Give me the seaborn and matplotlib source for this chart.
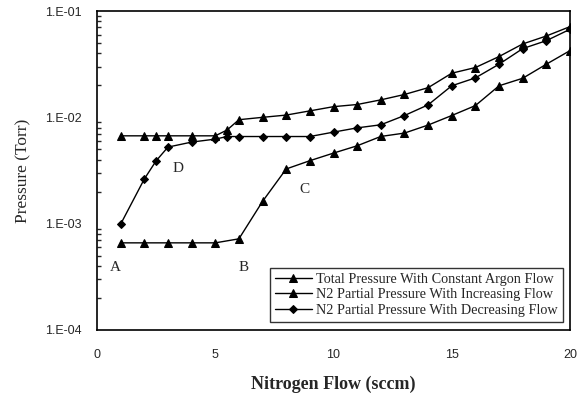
import numpy as np
import pandas as pd
import matplotlib
matplotlib.use("Agg")
import matplotlib.pyplot as plt
import seaborn as sns
from matplotlib.ticker import LogLocator, FixedFormatter, FixedLocator, NullFormatter

# Data
flow_total = [1, 2, 2.5, 3, 4, 5, 5.5, 6, 7, 8, 9, 10, 11, 12, 13, 14, 15, 16, 17, 18, 19, 20]
p_total = [6.7e-3, 6.7e-3, 6.7e-3, 6.7e-3, 6.7e-3, 6.7e-3, 7.6e-3, 9.5e-3, 1.0e-2, 1.05e-2, 1.15e-2,
           1.26e-2, 1.32e-2, 1.46e-2, 1.64e-2, 1.9e-2, 2.6e-2, 2.94e-2, 3.73e-2, 4.9e-2, 5.82e-2, 7.13e-2]

flow_inc = [1, 2, 3, 4, 5, 6, 7, 8, 9, 10, 11, 12, 13, 14, 15, 16, 17, 18, 19, 20]
p_inc = [6.6e-4, 6.6e-4, 6.6e-4, 6.6e-4, 6.6e-4, 7.2e-4, 1.62e-3, 3.27e-3, 3.91e-3, 4.61e-3,
         5.4e-3, 6.61e-3, 7.11e-3, 8.46e-3, 1.04e-2, 1.29e-2, 1.98e-2, 2.33e-2, 3.16e-2, 4.24e-2]

flow_dec = [1, 2, 2.5, 3, 4, 5, 5.5, 6, 7, 8, 9, 10, 11, 12, 13, 14, 15, 16, 17, 18, 19, 20]
p_dec = [9.9e-4, 2.63e-3, 3.9e-3, 5.25e-3, 5.85e-3, 6.24e-3, 6.6e-3, 6.6e-3, 6.6e-3, 6.6e-3, 6.6e-3,
         7.26e-3, 7.96e-3, 8.51e-3, 1.04e-2, 1.31e-2, 1.98e-2, 2.35e-2, 3.16e-2, 4.43e-2, 5.26e-2, 6.73e-2]

labels = ["Total Pressure With Constant Argon Flow",
          "N2 Partial Pressure With Increasing Flow",
          "N2 Partial Pressure With Decreasing Flow"]

ann_text = ["A", "B", "C", "D"]
ann_x = [0.76, 6.19, 8.77, 3.43]
ann_y = [3.87e-4, 3.87e-4, 2.08e-3, 3.28e-3]

ytick_vals = [1e-4, 1e-3, 1e-2, 1e-1]
ytick_labels = ["1.E-04", "1.E-03", "1.E-02", "1.E-01"]
xtick_vals = [0, 5, 10, 15, 20]

sns.set_style("white")
serif = "Liberation Serif"
sans = "Liberation Sans"
plt.rcParams['font.family'] = [sans, 'DejaVu Sans']

fig = plt.figure(figsize=(5.83, 4.0), dpi=100)
ax = fig.add_axes([0.1664, 0.175, 0.8113, 0.7975])

df_t = pd.DataFrame({"flow": flow_total, "p": p_total})
df_i = pd.DataFrame({"flow": flow_inc, "p": p_inc})
df_d = pd.DataFrame({"flow": flow_dec, "p": p_dec})

sns.lineplot(data=df_t, x="flow", y="p", ax=ax, color="black", lw=1.0, marker="^",
             markersize=5.5, markeredgecolor="black", label=labels[0])
sns.lineplot(data=df_i, x="flow", y="p", ax=ax, color="black", lw=1.0, marker="^",
             markersize=5.5, markeredgecolor="black", label=labels[1])
sns.lineplot(data=df_d, x="flow", y="p", ax=ax, color="black", lw=1.0, marker="D",
             markersize=3.6, markeredgecolor="black", label=labels[2])

ax.set_yscale("log")
ax.set_xlim(0, 20)
ax.set_ylim(1e-4, 1e-1)

ax.yaxis.set_major_locator(FixedLocator(ytick_vals))
ax.yaxis.set_major_formatter(FixedFormatter(ytick_labels))
ax.yaxis.set_minor_locator(LogLocator(base=10, subs=np.arange(2, 10)))
ax.yaxis.set_minor_formatter(NullFormatter())
ax.set_xticks(xtick_vals)
ax.set_xticklabels([str(v) for v in xtick_vals])

ax.tick_params(axis="y", which="major", direction="in", length=5, width=1, labelsize=9, pad=11)
ax.tick_params(axis="y", which="minor", direction="in", length=3, width=1, left=True)
ax.tick_params(axis="x", which="major", length=0, labelsize=9, pad=14)

for s in ax.spines.values():
    s.set_color("black")
    s.set_linewidth(1.2)

ax.set_xlabel("Nitrogen Flow (sccm)", family=serif, fontsize=13, fontweight="bold", labelpad=10)
ax.set_ylabel("Pressure (Torr)", family=serif, fontsize=12.5, labelpad=10)

for t, x, y in zip(ann_text, ann_x, ann_y):
    ax.text(x, y, t, family=serif, fontsize=11, ha="center", va="center")

leg = ax.legend(loc="lower right", bbox_to_anchor=(0.985, 0.025), prop={"family": serif, "size": 10.3},
                frameon=True, fancybox=False, edgecolor="black", handlelength=2.6,
                borderpad=0.35, labelspacing=0.18, handletextpad=0.3, borderaxespad=0)
leg.get_frame().set_linewidth(1.0)

fig.savefig("out.png", dpi=100)
